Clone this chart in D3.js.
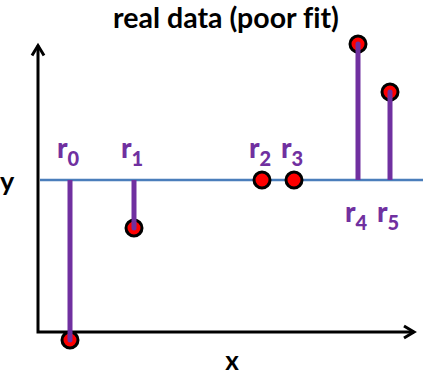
<!DOCTYPE html>
<html>
<head>
<meta charset="utf-8">
<script src="https://cdn.jsdelivr.net/npm/d3@7"></script>
<style>
  body { margin: 0; background: #fff; }
  svg { display: block; font-family: Lato, "Open Sans", sans-serif; font-weight: bold; font-variant-ligatures: none; }
</style>
</head>
<body>
<svg id="chart"></svg>
<script>
// data points and their residuals from the (flat) fit line
const labels = ["r0", "r1", "r2", "r3", "r4", "r5"];
const xValues = [1, 3, 7, 8, 10, 11];
const yValues = [-10, -3, 0, 0, 8.5, 5.5];
const fitValue = 0;

const width = 423;
const height = 375;

const purple = "#7030a0";
const blue = "#4a7ebb";

const svg = d3.select("#chart").attr("width", width).attr("height", height);

let xScale = d3.scaleLinear().domain([0, 12]).range([38, 422]);
let yScale = d3.scaleLinear().domain([-10, 10]).range([340, 20]);

// axis extents in data units
const xAxisEnd = 11.75;
const yAxisBottom = -9.5;
const yAxisTop = 8.4;

// title
svg.append("text")
  .attr("x", 226)
  .attr("y", 28)
  .attr("text-anchor", "middle")
  .attr("font-size", 28.5)
  .text("real data (poor fit)");

// fit line
svg.append("line")
  .attr("x1", xScale(0) + 2)
  .attr("x2", width)
  .attr("y1", yScale(fitValue))
  .attr("y2", yScale(fitValue))
  .attr("stroke", blue)
  .attr("stroke-width", 2.5);

// axes
let axisPath = d3.path();
axisPath.moveTo(xScale(0), yScale(yAxisTop));
axisPath.lineTo(xScale(0), yScale(yAxisBottom));
axisPath.lineTo(xScale(xAxisEnd), yScale(yAxisBottom));
svg.append("path")
  .attr("d", axisPath.toString())
  .attr("fill", "none")
  .attr("stroke", "#000")
  .attr("stroke-width", 3);

// arrow heads
let yTip = [xScale(0), yScale(yAxisTop)];
let xTip = [xScale(xAxisEnd), yScale(yAxisBottom)];
svg.append("path")
  .attr("d", `M${yTip[0] - 6},${yTip[1] + 10}L${yTip[0]},${yTip[1]}L${yTip[0] + 6},${yTip[1] + 10}`)
  .attr("fill", "none").attr("stroke", "#000").attr("stroke-width", 3)
  .attr("stroke-linejoin", "miter");
svg.append("path")
  .attr("d", `M${xTip[0] - 10},${xTip[1] - 6}L${xTip[0]},${xTip[1]}L${xTip[0] - 10},${xTip[1] + 6}`)
  .attr("fill", "none").attr("stroke", "#000").attr("stroke-width", 3)
  .attr("stroke-linejoin", "miter");

// axis names
svg.append("text").attr("x", 7).attr("y", 191)
  .attr("text-anchor", "middle").attr("font-size", 27).text("y");
svg.append("text").attr("x", 232).attr("y", 370)
  .attr("text-anchor", "middle").attr("font-size", 26).text("x");

let points = labels.map((d, i) => ({ label: d, x: xValues[i], y: yValues[i] }));

// residual stems
svg.selectAll(".stem")
  .data(points.filter((d) => d.y !== fitValue))
  .enter()
  .append("line")
  .attr("class", "stem")
  .attr("x1", (d) => xScale(d.x))
  .attr("x2", (d) => xScale(d.x))
  .attr("y1", yScale(fitValue))
  .attr("y2", (d) => yScale(d.y))
  .attr("stroke", purple)
  .attr("stroke-width", 5);

// points
svg.selectAll(".pt")
  .data(points)
  .enter()
  .append("circle")
  .attr("class", "pt")
  .attr("cx", (d) => xScale(d.x))
  .attr("cy", (d) => yScale(d.y))
  .attr("r", 8)
  .attr("fill", "#ff0000")
  .attr("stroke", "#000")
  .attr("stroke-width", 3);

// stems cover the dot centre, as in the original drawing
svg.selectAll(".stemTop")
  .data(points.filter((d) => d.y !== fitValue))
  .enter()
  .append("line")
  .attr("x1", (d) => xScale(d.x))
  .attr("x2", (d) => xScale(d.x))
  .attr("y1", (d) => yScale(d.y) + (d.y > 0 ? 8 : -8))
  .attr("y2", (d) => yScale(d.y))
  .attr("stroke", purple)
  .attr("stroke-width", 5)
  .attr("stroke-linecap", "round");

// labels: above the line for residuals at or below it, below for the rest
let lab = svg.selectAll(".lab")
  .data(points)
  .enter()
  .append("text")
  .attr("class", "lab")
  .attr("x", (d) => xScale(d.x) - 13)
  .attr("y", (d) => (d.y > 0 ? 222 : 158))
  .attr("fill", purple)
  .attr("font-weight", 900)
  .attr("font-size", 28);
lab.append("tspan").text("r");
lab.append("tspan")
  .attr("font-size", 20)
  .attr("dy", 8)
  .text((d) => d.label.slice(1));
</script>
</body>
</html>
